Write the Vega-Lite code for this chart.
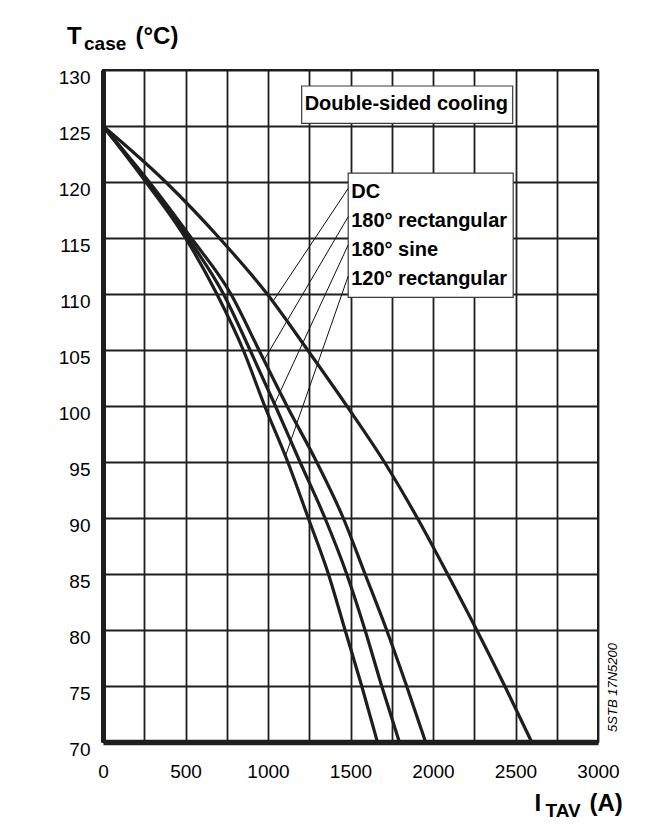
{
  "$schema": "https://vega.github.io/schema/vega-lite/v6.json",
  "autosize": "none",
  "width": 495,
  "height": 672,
  "padding": {"left": 103, "top": 70, "right": 69, "bottom": 94},
  "background": "white",
  "datasets": {
    "curves": [
      {"series": "DC", "I": 0, "T": 125},
      {"series": "DC", "I": 380, "T": 120},
      {"series": "DC", "I": 705, "T": 115},
      {"series": "DC", "I": 995, "T": 110},
      {"series": "DC", "I": 1240, "T": 105},
      {"series": "DC", "I": 1478, "T": 100},
      {"series": "DC", "I": 1705, "T": 95},
      {"series": "DC", "I": 1905, "T": 90},
      {"series": "DC", "I": 2088, "T": 85},
      {"series": "DC", "I": 2265, "T": 80},
      {"series": "DC", "I": 2435, "T": 75},
      {"series": "DC", "I": 2598, "T": 70},
      {"series": "180° rectangular", "I": 0, "T": 125},
      {"series": "180° rectangular", "I": 280, "T": 120},
      {"series": "180° rectangular", "I": 535, "T": 115},
      {"series": "180° rectangular", "I": 775, "T": 110},
      {"series": "180° rectangular", "I": 945, "T": 105},
      {"series": "180° rectangular", "I": 1115, "T": 100},
      {"series": "180° rectangular", "I": 1295, "T": 95},
      {"series": "180° rectangular", "I": 1456, "T": 90},
      {"series": "180° rectangular", "I": 1588, "T": 85},
      {"series": "180° rectangular", "I": 1719, "T": 80},
      {"series": "180° rectangular", "I": 1840, "T": 75},
      {"series": "180° rectangular", "I": 1955, "T": 70},
      {"series": "180° sine", "I": 0, "T": 125},
      {"series": "180° sine", "I": 270, "T": 120},
      {"series": "180° sine", "I": 515, "T": 115},
      {"series": "180° sine", "I": 730, "T": 110},
      {"series": "180° sine", "I": 891, "T": 105},
      {"series": "180° sine", "I": 1045, "T": 100},
      {"series": "180° sine", "I": 1194, "T": 95},
      {"series": "180° sine", "I": 1345, "T": 90},
      {"series": "180° sine", "I": 1477, "T": 85},
      {"series": "180° sine", "I": 1588, "T": 80},
      {"series": "180° sine", "I": 1689, "T": 75},
      {"series": "180° sine", "I": 1796, "T": 70},
      {"series": "120° rectangular", "I": 0, "T": 125},
      {"series": "120° rectangular", "I": 260, "T": 120},
      {"series": "120° rectangular", "I": 500, "T": 115},
      {"series": "120° rectangular", "I": 690, "T": 110},
      {"series": "120° rectangular", "I": 850, "T": 105},
      {"series": "120° rectangular", "I": 980, "T": 100},
      {"series": "120° rectangular", "I": 1120, "T": 95},
      {"series": "120° rectangular", "I": 1244, "T": 90},
      {"series": "120° rectangular", "I": 1366, "T": 85},
      {"series": "120° rectangular", "I": 1467, "T": 80},
      {"series": "120° rectangular", "I": 1568, "T": 75},
      {"series": "120° rectangular", "I": 1663, "T": 70}
    ],
    "boxes": [
      {"box": "cooling", "I": 1204, "I2": 2483, "T": 125.23, "T2": 128.57},
      {"box": "legend", "I": 1486, "I2": 2486, "T": 109.7, "T2": 120.8}
    ],
    "leaders": [
      {"series": "DC", "I": 1486, "T": 119.43, "I2": 1028, "T2": 109.3},
      {"series": "180° rectangular", "I": 1486, "T": 116.9, "I2": 976, "T2": 104.1},
      {"series": "180° sine", "I": 1486, "T": 114.38, "I2": 1040, "T2": 100.2},
      {"series": "120° rectangular", "I": 1486, "T": 111.6, "I2": 1105, "T2": 95.5}
    ],
    "labels": [
      {"label": "Double-sided cooling", "I": 1204, "T": 126.95},
      {"label": "DC", "I": 1486, "T": 119.1},
      {"label": "180° rectangular", "I": 1486, "T": 116.5},
      {"label": "180° sine", "I": 1486, "T": 113.9},
      {"label": "120° rectangular", "I": 1486, "T": 111.3}
    ]
  },
  "resolve": {"axis": {"x": "independent", "y": "independent"}},
  "layer": [
    {
      "data": {"name": "boxes"},
      "mark": {"type": "rect", "fill": "white", "stroke": "#3a3a3a", "strokeWidth": 1.2},
      "encoding": {
        "x": {"field": "I", "type": "quantitative", "scale": {"domain": [0, 3000], "nice": false, "zero": false},
          "axis": {"orient": "bottom", "title": "TAV", "labels": false, "ticks": false, "domain": false, "grid": false,
            "titleAngle": 0, "titleFontSize": 19, "titleX": 442, "titleY": 74}},
        "x2": {"field": "I2"},
        "y": {"field": "T", "type": "quantitative", "scale": {"domain": [70, 130], "nice": false, "zero": false},
          "axis": {"orient": "left", "title": "case", "labels": false, "ticks": false, "domain": false, "grid": false,
            "titleAngle": 0, "titleFontSize": 19, "titleX": -19.5, "titleY": -20.5}},
        "y2": {"field": "T2"}
      }
    },
    {
      "data": {"name": "leaders"},
      "mark": {"type": "rule", "color": "#111", "strokeWidth": 1},
      "encoding": {
        "x": {"field": "I", "type": "quantitative", "scale": {"domain": [0, 3000], "nice": false, "zero": false},
          "axis": {"orient": "bottom", "title": "(A)", "labels": false, "ticks": false, "domain": false, "grid": false,
            "titleAngle": 0, "titleFontSize": 24, "titleX": 486, "titleY": 68}},
        "x2": {"field": "I2"},
        "y": {"field": "T", "type": "quantitative", "scale": {"domain": [70, 130], "nice": false, "zero": false},
          "axis": {"orient": "left", "title": "(°C)", "labels": false, "ticks": false, "domain": false, "grid": false,
            "titleAngle": 0, "titleFontSize": 24, "titleX": 32, "titleY": -26.5}},
        "y2": {"field": "T2"}
      }
    },
    {
      "data": {"name": "curves"},
      "mark": {"type": "line", "color": "#1e1e1e", "strokeWidth": 3.2, "interpolate": "monotone"},
      "encoding": {
        "x": {"field": "I", "type": "quantitative", "scale": {"domain": [0, 3000], "nice": false, "zero": false},
          "axis": {"orient": "bottom", "title": "I", "values": [0, 250, 500, 750, 1000, 1250, 1500, 1750, 2000, 2250, 2500, 2750, 3000],
            "format": "d", "labelExpr": "datum.value % 500 === 0 ? datum.label : ''",
            "grid": true, "ticks": false, "tickSize": 0, "labelPadding": 20, "labelBaseline": "top",
            "domain": true, "domainWidth": 5.5, "domainColor": "#1e1e1e",
            "titleAngle": 0, "titleFontSize": 24, "titleX": 431, "titleY": 68}},
        "y": {"field": "T", "type": "quantitative", "scale": {"domain": [70, 130], "nice": false, "zero": false},
          "axis": {"orient": "left", "title": "T", "values": [70, 75, 80, 85, 90, 95, 100, 105, 110, 115, 120, 125, 130],
            "format": "d", "grid": true, "ticks": false, "tickSize": 0, "labelPadding": 13,
            "labelBaseline": "top", "labelOffset": -2,
            "domain": true, "domainWidth": 5, "domainColor": "#1e1e1e",
            "titleAngle": 0, "titleFontSize": 24, "titleX": -36.5, "titleY": -26.5}},
        "detail": {"field": "series", "type": "nominal"}
      }
    },
    {
      "data": {"name": "labels"},
      "mark": {"type": "text", "align": "left", "baseline": "middle", "dx": 3, "font": "Liberation Sans", "fontWeight": "bold", "fontSize": 20, "color": "#000"},
      "encoding": {
        "x": {"field": "I", "type": "quantitative", "scale": {"domain": [0, 3000], "nice": false, "zero": false}, "axis": null},
        "y": {"field": "T", "type": "quantitative", "scale": {"domain": [70, 130], "nice": false, "zero": false},
          "axis": {"orient": "right", "title": "5STB 17N5200", "labels": false, "ticks": false, "domain": false, "grid": false,
            "titleAngle": -90, "titleX": 14, "titleY": 617, "titleAlign": "center", "titleBaseline": "middle",
            "titleFontStyle": "italic", "titleFontWeight": "normal", "titleFontSize": 13}},
        "text": {"field": "label", "type": "nominal"}
      }
    }
  ],
  "config": {
    "view": {"stroke": "#1e1e1e", "strokeWidth": 2},
    "axis": {
      "labelFont": "Liberation Sans",
      "labelFontSize": 19,
      "labelColor": "#000",
      "labelFlush": false,
      "labelOverlap": false,
      "gridColor": "#1e1e1e",
      "gridWidth": 1.8,
      "gridOpacity": 1,
      "titleFont": "Liberation Sans",
      "titleFontWeight": "bold",
      "titleColor": "#000",
      "titleAlign": "left",
      "titleBaseline": "alphabetic"
    }
  }
}
